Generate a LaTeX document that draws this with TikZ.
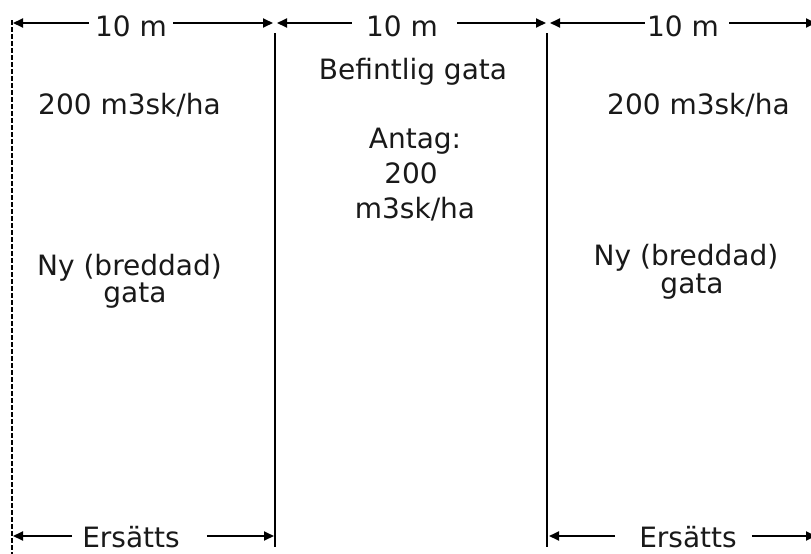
\documentclass[tikz,border=0pt]{standalone}
\usepackage{fontspec}
\setmainfont{DejaVu Sans}
\usetikzlibrary{arrows.meta}
\begin{document}
\begin{tikzpicture}[x=1pt,y=-1pt,
  lbl/.style={font=\fontsize{28}{32}\selectfont, inner sep=0pt, anchor=base, text=black!90},
  dim/.style={line width=1.9pt, -{Triangle[length=10pt,width=9pt]}},
  wall/.style={line width=1.9pt},
]
\useasboundingbox (0,0) rectangle (811,554);
\fill[white] (0,0) rectangle (811,554);

% boundary lines
\coordinate (d0) at (12,20);
\coordinate (d1) at (12,554);
\coordinate (w1t) at (275,33);
\coordinate (w1b) at (275,547);
\coordinate (w2t) at (547,33);
\coordinate (w2b) at (547,547);
\draw[wall, line width=1.6pt, dash pattern=on 4.5pt off 2.5pt] (d0) -- (d1);
\draw[wall] (w1t) -- (w1b);
\draw[wall] (w2t) -- (w2b);

% top dimension tips
\coordinate (a1l) at (13,23);
\coordinate (a1r) at (273,23);
\coordinate (a2l) at (277,23);
\coordinate (a2r) at (546,23);
\coordinate (a3l) at (550,23);
\coordinate (a3r) at (816,23);

\node[lbl] (m1) at (131,36) {10 m};
\node[lbl] (m2) at (402,36) {10 m};
\node[lbl] (m3) at (683,36) {10 m};

\draw[dim, shorten <=6pt] (m1.west |- a1l) -- (a1l);
\draw[dim, shorten <=6pt] (m1.east |- a1r) -- (a1r);
\draw[dim, shorten <=14pt] (m2.west |- a2l) -- (a2l);
\draw[dim, shorten <=19pt] (m2.east |- a2r) -- (a2r);
\draw[dim, shorten <=2pt] (m3.west |- a3l) -- (a3l);
\draw[dim, shorten <=10pt] (m3.east |- a3r) -- (a3r);

% bottom dimension tips
\coordinate (b1l) at (13,536);
\coordinate (b1r) at (274,536);
\coordinate (b3l) at (549,536);
\coordinate (b3r) at (816,536);

\node[lbl] (e1) at (131,547) {Ersätts};
\node[lbl] (e3) at (688,547) {Ersätts};

\draw[dim, shorten <=10pt] (e1.west |- b1l) -- (b1l);
\draw[dim, shorten <=27pt] (e1.east |- b1r) -- (b1r);
\draw[dim, shorten <=24pt] (e3.west |- b3l) -- (b3l);
\draw[dim, shorten <=15pt] (e3.east |- b3r) -- (b3r);

% left field
\node[lbl] (lq) at (129.5,114) {200 m3sk/ha};
\node[lbl] (ln1) at (129.5,275) {Ny (breddad)};
\node[lbl] (ln2) at (135,302) {gata};

% middle field
\node[lbl] (mb) at (413,79) {Befintlig gata};
\node[lbl] (ma1) at (415,148) {Antag:};
\node[lbl] (ma2) at (411,183) {200};
\node[lbl] (ma3) at (415,218) {m3sk/ha};

% right field
\node[lbl] (rq) at (698.5,114) {200 m3sk/ha};
\node[lbl] (rn1) at (686,265) {Ny (breddad)};
\node[lbl] (rn2) at (692,293) {gata};
\end{tikzpicture}
\end{document}
